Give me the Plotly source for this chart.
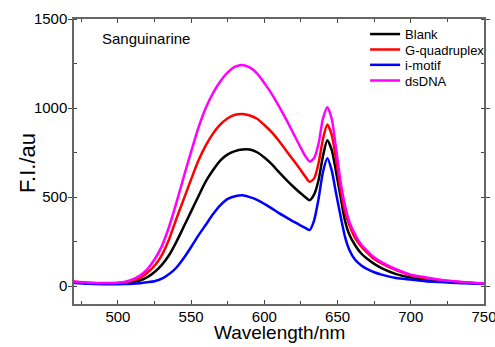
import plotly.graph_objects as go

wavelength = [470, 480, 490, 500, 505, 510, 515, 520, 525, 530, 535, 540, 545, 550, 555, 560,
              565, 570, 575, 580, 585, 590, 595, 600, 605, 610, 615, 620, 625, 628, 631, 634,
              637, 640, 643, 646, 649, 652, 655, 658, 662, 666, 670, 675, 680, 690, 700, 710,
              720, 735, 750]

blank = [22, 16, 14, 15, 18, 24, 32, 50, 80, 120, 175, 250, 335, 420, 505, 588,
         652, 706, 740, 758, 767, 767, 752, 722, 685, 640, 597, 557, 520, 500, 483, 515,
         595, 730, 820, 765, 640, 505, 370, 290, 230, 185, 155, 125, 102, 68, 48, 37,
         30, 21, 14]

g_quadruplex = [25, 19, 16, 18, 22, 32, 45, 75, 115, 175, 265, 380, 490, 600, 705, 790,
                858, 908, 943, 962, 966, 958, 940, 905, 865, 815, 760, 705, 650, 615, 586, 605,
                690, 825, 908, 850, 712, 545, 420, 345, 270, 225, 190, 152, 128, 90, 60, 45,
                34, 22, 14]

i_motif = [18, 13, 11, 11, 12, 14, 17, 22, 28, 42, 68, 105, 158, 220, 285, 345,
           405, 455, 490, 505, 510, 500, 485, 462, 437, 410, 386, 362, 340, 327, 316, 370,
           490, 640, 718, 650, 520, 395, 280, 205, 148, 118, 97, 78, 65, 46, 37, 28,
           23, 17, 13]

dsdna = [26, 20, 18, 20, 25, 38, 60, 95, 150, 225, 335, 470, 615, 755, 890, 1000,
         1085, 1150, 1200, 1232, 1242, 1228, 1195, 1140, 1080, 1010, 935, 855, 775, 730, 700, 720,
         800, 940, 1005, 940, 770, 590, 455, 362, 290, 235, 200, 162, 135, 95, 65, 50,
         36, 24, 15]

series_names = ["Blank", "G-quadruplex", "i-motif", "dsDNA"]
series_values = [blank, g_quadruplex, i_motif, dsdna]
series_colors = ["#000000", "#ff0000", "#0000ff", "#ff00ff"]
legend_ids = ["legend", "legend2", "legend3", "legend4"]
legend_y = [0.947, 0.893, 0.839, 0.784]

x_ticks = [500, 550, 600, 650, 700, 750]
y_ticks = [0, 500, 1000, 1500]

FONT = "Liberation Sans, Arial, sans-serif"

fig = go.Figure()
for name, vals, col, lid in zip(series_names, series_values, series_colors, legend_ids):
    fig.add_trace(go.Scatter(x=wavelength, y=vals, mode="lines", name=name, showlegend=True,
                             line=dict(color=col, width=2.5, shape="spline", smoothing=0.7),
                             legend=lid))

axis_common = dict(showline=True, linecolor="#666666", linewidth=1.5, mirror="ticks",
                   showgrid=False, zeroline=False, ticklen=4, tickwidth=1, tickcolor="#444444",
                   automargin=False, ticklabeloverflow="allow",
                   tickfont=dict(size=15, color="#000000", family=FONT))

fig.update_xaxes(range=[470, 750], tickvals=x_ticks, ticks="inside", ticklabelstandoff=-2,
                 minor=dict(dtick=25, tick0=475, ticks="inside", ticklen=3, tickcolor="#444444"),
                 **axis_common)
fig.update_yaxes(range=[-100, 1500], tickvals=y_ticks, ticks="outside", ticklabelstandoff=-2,
                 minor=dict(dtick=250, tick0=0, ticks="inside", ticklen=3, tickcolor="#444444"),
                 **axis_common)

layout_legends = {}
for lid, ly in zip(legend_ids, legend_y):
    layout_legends[lid] = dict(x=0.710, y=ly, xanchor="left", yanchor="middle",
                               bgcolor="rgba(0,0,0,0)", borderwidth=0,
                               font=dict(size=13, family=FONT, color="#000000"),
                               itemwidth=30)

fig.update_layout(
    width=495, height=347,
    margin=dict(l=74, r=11, t=19, b=43, autoexpand=False),
    paper_bgcolor="white", plot_bgcolor="white",
    showlegend=True,
    font=dict(family=FONT, color="#000000"),
    annotations=[
        dict(text="Sanguinarine", xref="paper", yref="paper", x=0.063, y=0.93,
             xanchor="left", yanchor="middle", showarrow=False,
             font=dict(size=15, family=FONT, color="#000000")),
        dict(text="Wavelength/nm", xref="paper", yref="paper", x=0.5, y=0,
             xanchor="center", yanchor="middle", yshift=-28, showarrow=False,
             font=dict(size=19, family=FONT, color="#000000")),
        dict(text="F.I./au", xref="paper", yref="paper", x=0, y=0.495,
             xanchor="center", yanchor="middle", xshift=-46, textangle=-90, showarrow=False,
             font=dict(size=22, family=FONT, color="#000000")),
    ],
    **layout_legends,
)

fig.write_html("out.html")
